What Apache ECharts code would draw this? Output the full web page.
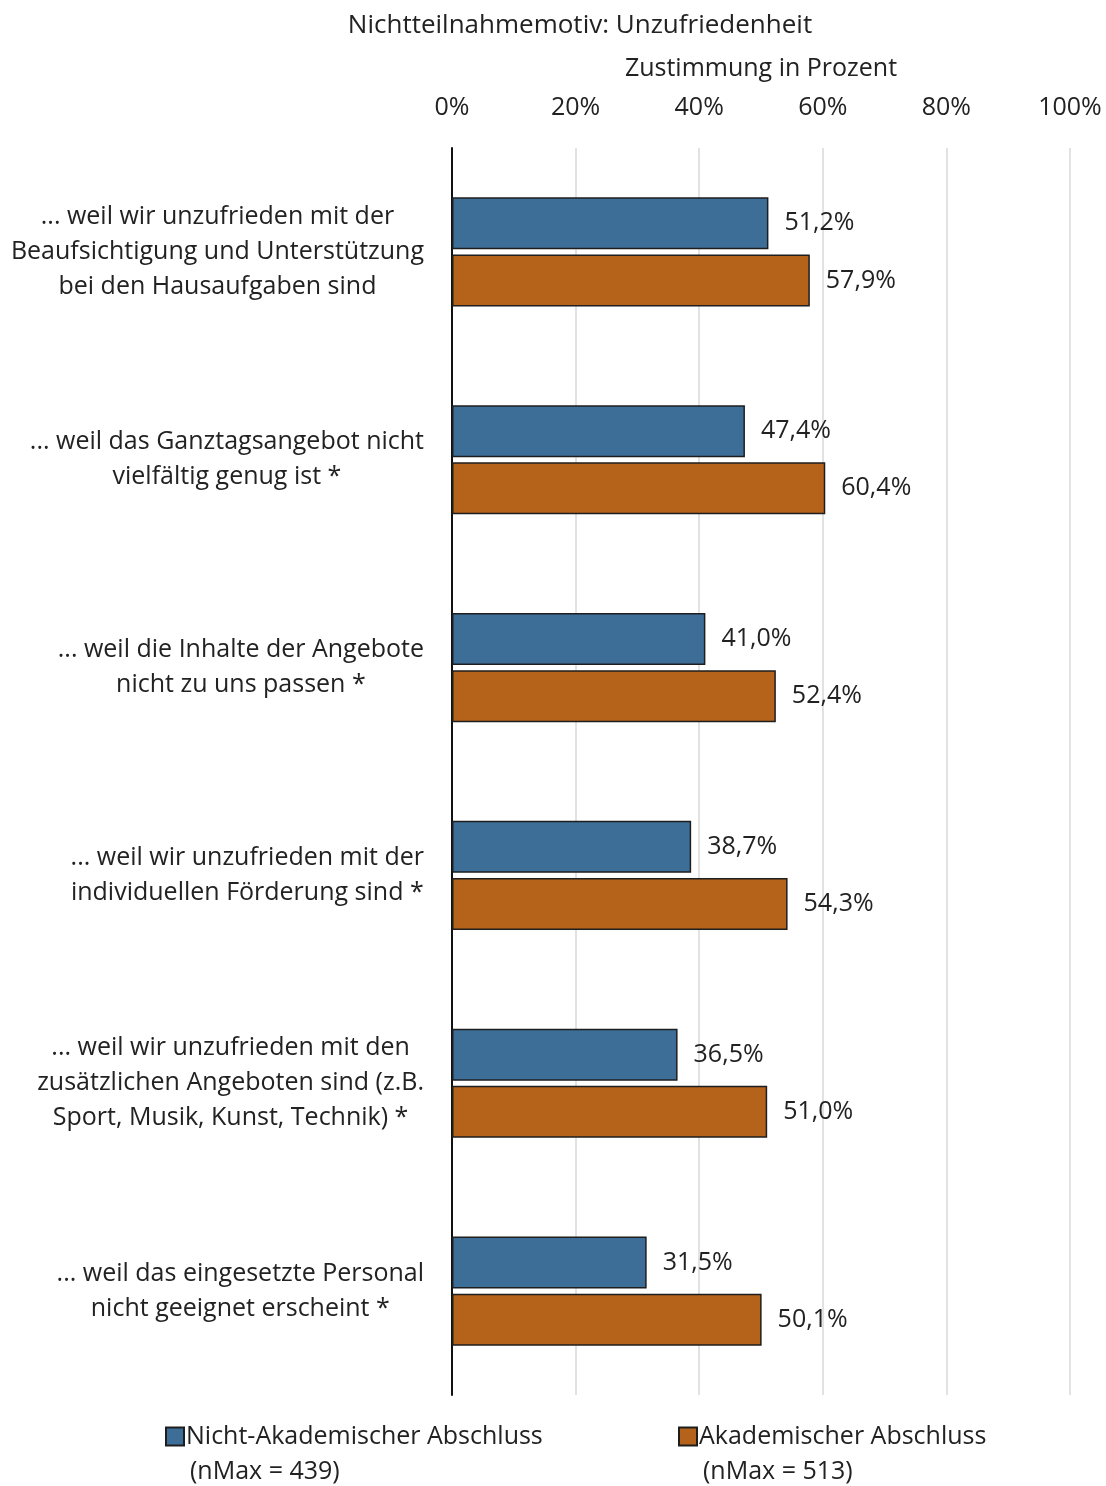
<!DOCTYPE html>
<html>
<head>
<meta charset="utf-8">
<script src="https://cdn.jsdelivr.net/npm/echarts@6/dist/echarts.min.js"></script>
<style>html,body{margin:0;padding:0;background:#fff}#c{width:1106px;height:1486px}</style>
</head>
<body>
<div id="c"></div>
<script>
const categories = [
  "... weil wir unzufrieden mit der\nBeaufsichtigung und Unterstützung\nbei den Hausaufgaben sind",
  "... weil das Ganztagsangebot nicht\nvielfältig genug ist *",
  "... weil die Inhalte der Angebote\nnicht zu uns passen *",
  "... weil wir unzufrieden mit der\nindividuellen Förderung sind *",
  "... weil wir unzufrieden mit den\nzusätzlichen Angeboten sind (z.B.\nSport, Musik, Kunst, Technik) *",
  "... weil das eingesetzte Personal\nnicht geeignet erscheint *"
];
const seriesNames = ["Nicht-Akademischer Abschluss", "Akademischer Abschluss"];
const nMaxLabels = ["(nMax = 439)", "(nMax = 513)"];
const nichtAkademisch = [51.2, 47.4, 41.0, 38.7, 36.5, 31.5];
const akademisch = [57.9, 60.4, 52.4, 54.3, 51.0, 50.1];
const tickValues = [0, 20, 40, 60, 80, 100];

const narrow = '"Open Sans", "Noto Sans", sans-serif';
const wide = '"Open Sans", "Noto Sans", sans-serif';
const fmt = v => v.toFixed(1).replace('.', ',') + '%';

const chart = echarts.init(document.getElementById('c'));
chart.setOption({
  backgroundColor: '#fff',
  animation: false,
  title: {
    text: 'Nichtteilnahmemotiv: Unzufriedenheit',
    left: 575, top: 8, textAlign: 'center',
    textStyle: {fontFamily: narrow, fontSize: 26, fontWeight: 'normal', color: '#222'}
  },
  grid: {left: 452, right: 36, top: 148, bottom: 91, containLabel: false},
  xAxis: {
    type: 'value', position: 'top', min: 0, max: 100, interval: 20,
    name: 'Zustimmung in Prozent', nameLocation: 'middle', nameGap: 67,
    nameTextStyle: {fontFamily: narrow, fontSize: 25, color: '#222'},
    axisLine: {show: false}, axisTick: {show: false},
    axisLabel: {margin: 28, fontFamily: narrow, fontSize: 25, color: '#222', formatter: v => v + '%'},
    splitLine: {show: true, lineStyle: {color: '#d9d9d9', width: 1.5}}
  },
  yAxis: {
    type: 'category', inverse: true, data: categories,
    axisLine: {show: true, lineStyle: {color: '#111', width: 2}},
    axisTick: {show: false},
    axisLabel: {
      margin: 28, fontFamily: wide, fontSize: 25, color: '#222', lineHeight: 35,
      formatter: v => v.split('\n').map(s => '{c|' + s + '}').join('\n'),
      rich: {c: {align: 'center', fontFamily: wide, fontSize: 25, color: '#222', lineHeight: 35}}
    }
  },
  legend: [
    {data: [seriesNames[0]], left: 165, top: 1424, padding: 0, itemWidth: 18, itemHeight: 18, itemGap: 5,
     icon: 'rect', textStyle: {fontFamily: narrow, fontSize: 25, color: '#222', padding: [0,0,0,-3]}},
    {data: [seriesNames[1]], left: 678, top: 1424, padding: 0, itemWidth: 18, itemHeight: 18, itemGap: 5,
     icon: 'rect', textStyle: {fontFamily: narrow, fontSize: 25, color: '#222', padding: [0,0,0,-3]}}
  ],
  graphic: [
    {type: 'text', left: 190, top: 1459, style: {text: nMaxLabels[0], font: '25px ' + narrow, fill: '#222'}},
    {type: 'text', left: 703, top: 1459, style: {text: nMaxLabels[1], font: '25px ' + narrow, fill: '#222'}}
  ],
  series: [
    {
      name: seriesNames[0], type: 'bar', data: nichtAkademisch, barWidth: 52, barGap: '10%',
      itemStyle: {color: '#3d6e98', borderColor: '#1e1e1e', borderWidth: 1.5},
      label: {show: true, position: 'right', distance: 16, fontFamily: wide, fontSize: 25, color: '#222',
              formatter: p => fmt(p.value)}
    },
    {
      name: seriesNames[1], type: 'bar', data: akademisch, barWidth: 52, barGap: '10%',
      itemStyle: {color: '#b5621a', borderColor: '#1e1e1e', borderWidth: 1.5},
      label: {show: true, position: 'right', distance: 16, fontFamily: wide, fontSize: 25, color: '#222',
              formatter: p => fmt(p.value)}
    }
  ]
});
</script>
</body>
</html>
